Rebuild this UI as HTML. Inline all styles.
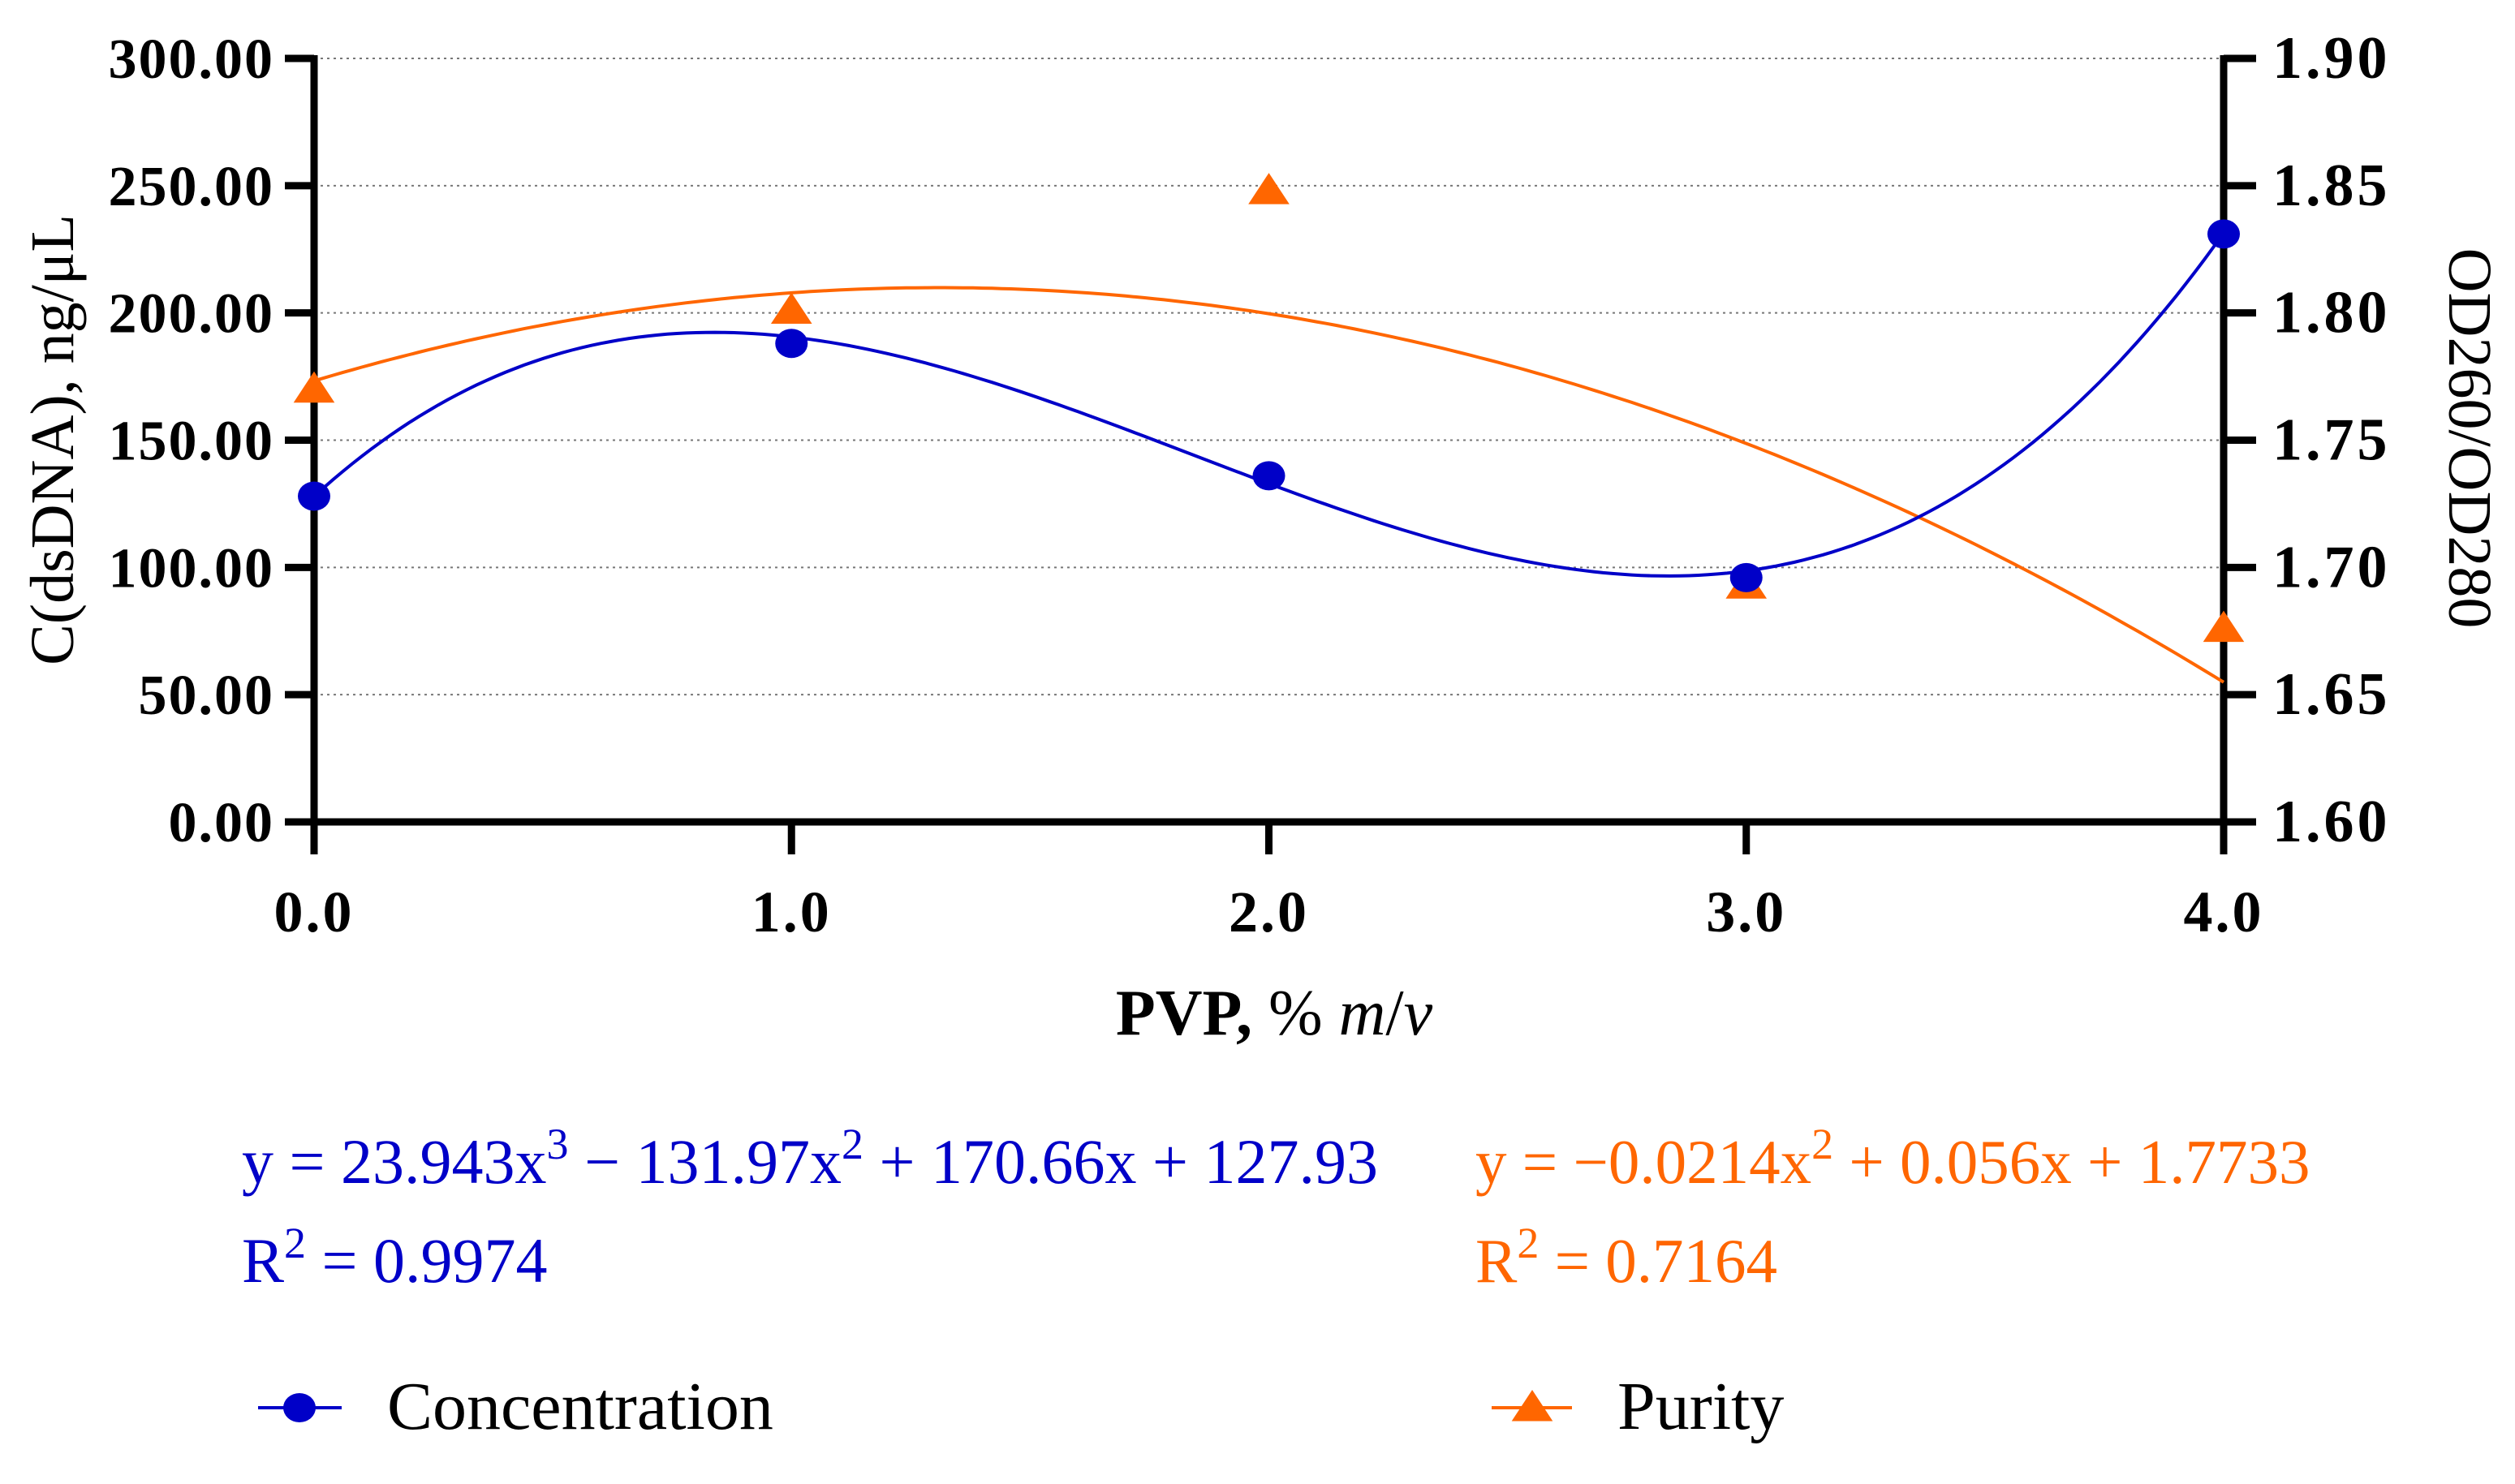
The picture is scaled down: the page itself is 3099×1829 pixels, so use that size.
<!DOCTYPE html>
<html><head><meta charset="utf-8"><style>
body{margin:0;background:#fff}
svg{display:block;font-family:"Liberation Serif",serif}
</style></head><body>
<svg id="chart" width="3099" height="1829" viewBox="0 0 3099 1829"></svg>
<script>
const xCategories=[0,1,2,3,4];
const concentration=[128,188,136,96,231];
const purity=[1.770,1.801,1.848,1.693,1.676];
const leftTicks=["0.00","50.00","100.00","150.00","200.00","250.00","300.00"];
const rightTicks=["1.60","1.65","1.70","1.75","1.80","1.85","1.90"];
const xTicks=["0.0","1.0","2.0","3.0","4.0"];
const concFit=[127.93,170.66,-131.97,23.943];
const purFit=[1.7733,0.056,-0.0214];

const NS="http://www.w3.org/2000/svg";
const svg=document.getElementById('chart');
const X0=387,X1=2740,YT=72,YB=1013;
const xs=v=>X0+(v-0)/(4-0)*(X1-X0);
const yl=v=>YB-(v-0)/300*(YB-YT);
const yr=v=>YB-(v-1.6)/0.3*(YB-YT);
function mk(tag,attrs,parent){const e=document.createElementNS(NS,tag);for(const k in attrs)e.setAttribute(k,attrs[k]);(parent||svg).appendChild(e);return e;}
const BLUE="#0000c8",OR="#ff6600";

leftTicks.forEach((t,i)=>{const v=parseFloat(t);if(v>0){const g=mk('line',{x1:X0,x2:X1,y1:yl(v),y2:yl(v),stroke:'#777','stroke-width':2,'stroke-dasharray':'3,5'});

}});
const ax=mk('g',{stroke:'#000','stroke-width':9,fill:'none'});


mk('line',{x1:X0,x2:X0,y1:YT-4,y2:YB+4},ax);
mk('line',{x1:X1,x2:X1,y1:YT-4,y2:YB+4},ax);
mk('line',{x1:X0,x2:X1,y1:YB,y2:YB},ax);
leftTicks.forEach(t=>{const y=yl(parseFloat(t));mk('line',{x1:X0-36,x2:X0,y1:y,y2:y},ax);
const tx=mk('text',{x:338,y:y+24,'text-anchor':'end','font-size':70,'font-weight':'bold','letter-spacing':2});tx.textContent=t;

});
rightTicks.forEach(t=>{const y=yr(parseFloat(t));mk('line',{x1:X1,x2:X1+40,y1:y,y2:y},ax);
const tx=mk('text',{x:2800,y:y+24,'text-anchor':'start','font-size':74,'font-weight':'bold','letter-spacing':4});tx.textContent=t;

});
xTicks.forEach(t=>{const x=xs(parseFloat(t));mk('line',{x1:x,x2:x,y1:YB,y2:YB+40},ax);
const tx=mk('text',{x:x,y:1148,'text-anchor':'middle','font-size':72,'font-weight':'bold','letter-spacing':3});tx.textContent=t;

});

function poly(c,x){return c.reduce((s,a,i)=>s+a*Math.pow(x,i),0);}
let d1='',d2='';
for(let i=0;i<=200;i++){const x=4*i/200;d1+=(i?'L':'M')+xs(x).toFixed(1)+','+yl(poly(concFit,x)).toFixed(1);d2+=(i?'L':'M')+xs(x).toFixed(1)+','+yr(poly(purFit,x)).toFixed(1);}
const p2=mk('path',{d:d2,stroke:OR,'stroke-width':4,fill:'none'});


const p1=mk('path',{d:d1,stroke:BLUE,'stroke-width':4,fill:'none'});



function tri(x,y,s){return `${x},${y-s} ${x-s*1.15},${y+s*0.75} ${x+s*1.15},${y+s*0.75}`;}
purity.forEach((v,i)=>{const t=mk('polygon',{points:tri(xs(xCategories[i]),yr(v),22),fill:OR});

});
concentration.forEach((v,i)=>{const c=mk('ellipse',{cx:xs(xCategories[i]),cy:yl(v),rx:20,ry:18,fill:BLUE});

});

function text(x,y,str,attrs,name){const t=mk('text',Object.assign({x:x,y:y},attrs));t.innerHTML=str;return t;}
text(1570,1275,'<tspan font-weight="bold">PVP,</tspan> % <tspan font-style="italic">m</tspan>/<tspan font-style="italic">v</tspan>',{'text-anchor':'middle','font-size':80},'x-axis-title');
text(0,0,'C(dsDNA), ng/μL',{'text-anchor':'middle','font-size':76,transform:'translate(90,542) rotate(-90)'},'left-y-axis-title');
text(0,0,'OD260/OD280',{'text-anchor':'middle','font-size':76,transform:'translate(3018,540) rotate(90)'},'right-y-axis-title');
text(298,1458,'y = 23.943x<tspan dy="-30" font-size="54">3</tspan><tspan dy="30"> − 131.97x</tspan><tspan dy="-30" font-size="54">2</tspan><tspan dy="30"> + 170.66x + 127.93</tspan>',{'font-size':78,fill:BLUE},'concentration-equation');
text(298,1580,'R<tspan dy="-30" font-size="54">2</tspan><tspan dy="30"> = 0.9974</tspan>',{'font-size':78,fill:BLUE},'concentration-r2');
text(1818,1458,'y = −0.0214x<tspan dy="-30" font-size="54">2</tspan><tspan dy="30"> + 0.056x + 1.7733</tspan>',{'font-size':77,fill:OR},'purity-equation');
text(1818,1580,'R<tspan dy="-30" font-size="54">2</tspan><tspan dy="30"> = 0.7164</tspan>',{'font-size':77,fill:OR},'purity-r2');

const lg=mk('g',{});


mk('line',{x1:318,x2:421,y1:1735,y2:1735,stroke:BLUE,'stroke-width':4},lg);
mk('ellipse',{cx:369,cy:1735,rx:20,ry:18,fill:BLUE},lg);
const l1=text(477,1761,'Concentration',{'font-size':84},'legend-entry-concentration');lg.appendChild(l1);
mk('line',{x1:1838,x2:1937,y1:1735,y2:1735,stroke:OR,'stroke-width':4},lg);
mk('polygon',{points:tri(1888,1735,22),fill:OR},lg);
const l2=text(1993,1761,'Purity',{'font-size':84},'legend-entry-purity');lg.appendChild(l2);
</script>
</body></html>
